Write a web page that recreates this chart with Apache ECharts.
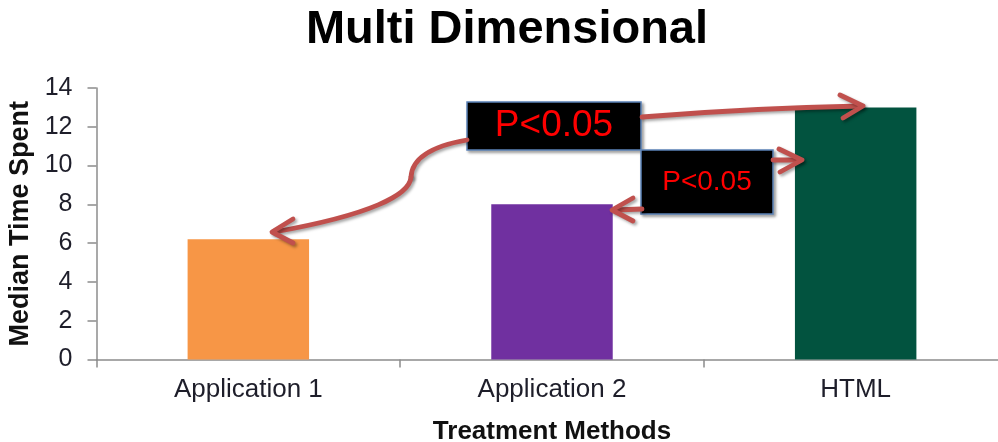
<!DOCTYPE html>
<html>
<head>
<meta charset="utf-8">
<title>Multi Dimensional</title>
<script src="https://cdn.jsdelivr.net/npm/echarts@6/dist/echarts.min.js"></script>
<style>
  html, body { margin: 0; padding: 0; background: #ffffff; }
  #chart { width: 998px; height: 442px; }
</style>
</head>
<body>
<div id="chart"></div>
<script>
// Median time spent per treatment method
const categories = ['Application 1', 'Application 2', 'HTML'];
const medianTime = [6.2, 8.0, 13.0];
const yTicks = { min: 0, max: 14, interval: 2 };
const significanceLabels = ['P<0.05', 'P<0.05'];

const barColors = ['#f79646', '#7030a0', '#02533f'];
const FONT = '"Liberation Sans", Arial, sans-serif';
const ARROW = '#c0504d';

const chart = echarts.init(document.getElementById('chart'), null, { renderer: 'canvas' });

const shadow = { shadowColor: 'rgba(0,0,0,0.35)', shadowBlur: 3, shadowOffsetX: 2, shadowOffsetY: 2 };
const arrowStyle = Object.assign({ stroke: ARROW, fill: null, lineWidth: 4.8, lineCap: 'round', lineJoin: 'round' }, shadow);

// cubic (or quadratic when c2 is omitted) connector segment
function curve(p1, c1, c2, p2) {
  const shape = { x1: p1[0], y1: p1[1], x2: p2[0], y2: p2[1], cpx1: c1[0], cpy1: c1[1] };
  if (c2) { shape.cpx2 = c2[0]; shape.cpy2 = c2[1]; }
  return { type: 'bezierCurve', z: 50, shape: shape, style: arrowStyle };
}
function segment(p1, p2) {
  return { type: 'line', z: 50, shape: { x1: p1[0], y1: p1[1], x2: p2[0], y2: p2[1] }, style: arrowStyle };
}
function head(points) {
  return { type: 'polyline', z: 50, shape: { points: points }, style: arrowStyle };
}
function box(x, y, w, h, text, size) {
  return {
    type: 'group', z: 60,
    children: [
      { type: 'rect', shape: { x: x, y: y, width: w, height: h },
        style: Object.assign({ fill: '#000000', stroke: '#5b82b8', lineWidth: 1.5 }, shadow) },
      { type: 'text', x: x + w / 2, y: y + h / 2,
        style: { text: text, fill: '#ff0000', font: size + 'px ' + FONT, align: 'center', verticalAlign: 'middle' } }
    ]
  };
}

chart.setOption({
  animation: false,
  backgroundColor: '#ffffff',
  grid: { left: 96.5, top: 88, width: 911, height: 271.5, containLabel: false, outerBoundsMode: 'none' },
  xAxis: {
    type: 'category',
    data: categories,
    axisLine: { show: true, lineStyle: { color: '#8c8c8c', width: 1.5 } },
    axisTick: { show: true, alignWithLabel: false, length: 8, lineStyle: { color: '#8c8c8c', width: 1.5 } },
    axisLabel: { fontFamily: FONT, fontSize: 26, color: '#1e1e2a', margin: 17 },
    name: 'Treatment Methods',
    nameLocation: 'middle',
    nameGap: 59,
    nameTextStyle: { fontFamily: FONT, fontSize: 26, fontWeight: 'bold', color: '#111' }
  },
  yAxis: {
    type: 'value',
    min: yTicks.min, max: yTicks.max, interval: yTicks.interval,
    axisLine: { show: true, lineStyle: { color: '#8c8c8c', width: 1.5 } },
    axisTick: { show: true, length: 9, lineStyle: { color: '#8c8c8c', width: 1.5 } },
    splitLine: { show: false },
    axisLabel: { fontFamily: FONT, fontSize: 25, color: '#1e1e2a', margin: 24 },
    name: 'Median Time Spent',
    nameLocation: 'middle',
    nameGap: 57,
    nameTextStyle: { fontFamily: FONT, fontSize: 27, fontWeight: 'bold', color: '#111' }
  },
  series: [{
    type: 'bar',
    barWidth: '40%',
    data: medianTime.map((v, i) => ({ value: v, itemStyle: { color: barColors[i] } })),
    silent: true
  }],
  graphic: [
    { type: 'text', x: 507, y: 30, z: 70,
      style: { text: 'Multi Dimensional', fill: '#000', font: 'bold 47px ' + FONT, align: 'center', verticalAlign: 'middle' } },
    // arrow to HTML from the upper label
    curve([642, 117], [752, 108], null, [861, 106]),
    head([[840, 95], [863, 106], [843, 118]]),
    // arrow to HTML from the lower label
    segment([773, 160], [800, 160]),
    head([[779, 149], [802, 160], [780, 172]]),
    // arrow to Application 2
    segment([642, 209], [614, 210]),
    head([[633, 198], [612, 210], [633, 221]]),
    // winding arrow to Application 1
    curve([467, 140], [432, 146], [412, 158], [411, 177]),
    curve([411, 177], [410, 195], [370, 215], [274, 232]),
    head([[293, 219], [272, 232], [293, 243]]),
    box(467, 102, 174, 48, significanceLabels[0], 37),
    box(641, 150, 132, 64, significanceLabels[1], 28)
  ]
});
</script>
</body>
</html>
